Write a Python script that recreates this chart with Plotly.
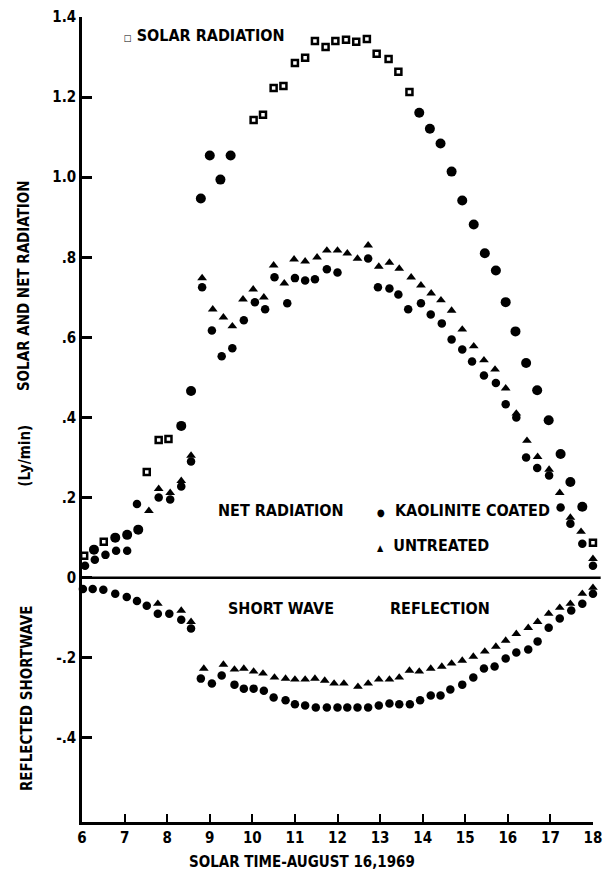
import plotly.graph_objects as go

# ---------------- data ----------------
# Solar radiation, points drawn as open squares in the figure
solar_open_time = [6.05, 6.51, 7.52, 7.80, 8.03, 10.03, 10.25, 10.50, 10.73, 11.00, 11.24,
                   11.47, 11.72, 11.95, 12.20, 12.44, 12.69, 12.92, 13.20, 13.43, 13.69, 18.00]
solar_open_value = [0.055, 0.090, 0.264, 0.344, 0.346, 1.143, 1.156, 1.223, 1.228, 1.285, 1.298,
                    1.340, 1.325, 1.340, 1.343, 1.338, 1.345, 1.308, 1.295, 1.263, 1.213, 0.087]
# Solar radiation, points that print as solid dots
solar_dark_time = [6.28, 6.78, 7.06, 7.32, 8.33, 8.56, 8.79, 9.00, 9.25, 9.49, 13.92, 14.17,
                   14.42, 14.68, 14.93, 15.20, 15.46, 15.72, 15.95, 16.18, 16.43, 16.69, 16.96,
                   17.24, 17.47, 17.75]
solar_dark_value = [0.070, 0.100, 0.107, 0.120, 0.379, 0.466, 0.947, 1.054, 0.994, 1.054, 1.161,
                    1.121, 1.084, 1.014, 0.942, 0.882, 0.810, 0.767, 0.688, 0.615, 0.536, 0.468,
                    0.393, 0.309, 0.239, 0.177]

# Net radiation - kaolinite coated (circles)
kaol_net_time = [6.07, 6.30, 6.55, 6.80, 7.06, 7.29, 7.80, 8.07, 8.33, 8.56, 8.82, 9.05, 9.28,
                 9.53, 9.80, 10.06, 10.30, 10.52, 10.82, 11.00, 11.24, 11.47, 11.75, 12.00, 12.72,
                 12.95, 13.22, 13.43, 13.66, 13.96, 14.19, 14.45, 14.68, 14.93, 15.16, 15.44,
                 15.72, 15.95, 16.20, 16.43, 16.69, 16.97, 17.24, 17.47, 17.75, 18.00]
kaol_net_value = [0.030, 0.045, 0.057, 0.067, 0.067, 0.184, 0.200, 0.195, 0.228, 0.290, 0.725,
                  0.617, 0.553, 0.573, 0.643, 0.688, 0.670, 0.750, 0.685, 0.748, 0.742, 0.745,
                  0.770, 0.762, 0.797, 0.725, 0.722, 0.707, 0.670, 0.685, 0.657, 0.635, 0.595,
                  0.570, 0.540, 0.505, 0.486, 0.433, 0.400, 0.300, 0.274, 0.255, 0.175, 0.135,
                  0.085, 0.030]

# Net radiation - untreated (triangles)
untr_net_time = [7.57, 7.80, 8.07, 8.33, 8.56, 8.82, 9.07, 9.32, 9.53, 9.78, 10.02, 10.27, 10.50,
                 10.75, 10.98, 11.24, 11.52, 11.75, 12.00, 12.23, 12.47, 12.72, 12.97, 13.22,
                 13.45, 13.73, 13.96, 14.20, 14.43, 14.68, 14.93, 15.20, 15.44, 15.70, 15.95,
                 16.20, 16.45, 16.70, 16.97, 17.22, 17.47, 17.72, 18.00]
untr_net_value = [0.167, 0.222, 0.212, 0.242, 0.305, 0.748, 0.670, 0.650, 0.628, 0.695, 0.720,
                  0.700, 0.780, 0.735, 0.795, 0.790, 0.800, 0.817, 0.817, 0.810, 0.797, 0.830,
                  0.777, 0.787, 0.772, 0.750, 0.730, 0.710, 0.693, 0.667, 0.620, 0.578, 0.543,
                  0.520, 0.473, 0.410, 0.342, 0.302, 0.270, 0.212, 0.150, 0.115, 0.047]

# Reflected shortwave - kaolinite coated (circles)
kaol_refl_time = [6.02, 6.25, 6.50, 6.78, 7.05, 7.29, 7.52, 7.78, 8.05, 8.33, 8.56, 8.79, 9.05,
                  9.28, 9.58, 9.80, 10.03, 10.27, 10.50, 10.78, 11.00, 11.24, 11.49, 11.75, 12.00,
                  12.23, 12.47, 12.72, 12.97, 13.22, 13.45, 13.70, 13.94, 14.19, 14.42, 14.65,
                  14.93, 15.19, 15.44, 15.69, 15.95, 16.20, 16.48, 16.70, 16.96, 17.22, 17.49,
                  17.75, 18.00]
kaol_refl_value = [-0.028, -0.028, -0.030, -0.040, -0.048, -0.058, -0.070, -0.090, -0.090,
                   -0.105, -0.127, -0.252, -0.264, -0.244, -0.267, -0.277, -0.277, -0.282,
                   -0.299, -0.306, -0.316, -0.319, -0.324, -0.324, -0.324, -0.324, -0.324,
                   -0.324, -0.319, -0.314, -0.316, -0.316, -0.306, -0.294, -0.294, -0.279,
                   -0.267, -0.249, -0.227, -0.222, -0.202, -0.187, -0.179, -0.159, -0.125,
                   -0.102, -0.082, -0.065, -0.040]

# Reflected shortwave - untreated (triangles)
untr_refl_time = [7.78, 8.33, 8.56, 8.86, 9.32, 9.58, 9.80, 10.03, 10.25, 10.52, 10.78, 11.00,
                  11.24, 11.47, 11.70, 11.92, 12.15, 12.48, 12.72, 12.97, 13.22, 13.45, 13.69,
                  13.92, 14.19, 14.45, 14.68, 14.93, 15.19, 15.46, 15.72, 15.95, 16.20, 16.48,
                  16.70, 16.96, 17.22, 17.47, 17.75, 18.00]
untr_refl_value = [-0.065, -0.082, -0.110, -0.227, -0.217, -0.229, -0.227, -0.234, -0.239,
                   -0.249, -0.252, -0.254, -0.254, -0.252, -0.257, -0.264, -0.264, -0.272,
                   -0.264, -0.254, -0.254, -0.249, -0.232, -0.234, -0.227, -0.222, -0.214,
                   -0.207, -0.197, -0.184, -0.172, -0.157, -0.140, -0.125, -0.110, -0.090,
                   -0.075, -0.065, -0.040, -0.025]

x_ticks = [6, 7, 8, 9, 10, 11, 12, 13, 14, 15, 16, 17, 18]
y_ticks = [1.4, 1.2, 1.0, 0.8, 0.6, 0.4, 0.2, 0.0, -0.2, -0.4]
y_tick_text = ["1.4", "1.2", "1.0", ".8", ".6", ".4", ".2", "0", "-.2", "-.4"]

# ---------------- figure ----------------
FONT = "Liberation Sans Narrow, DejaVu Sans Condensed, Liberation Sans, Arial, sans-serif"
INK = "#000000"

fig = go.Figure()

fig.add_trace(go.Scatter(x=kaol_net_time + kaol_refl_time, y=kaol_net_value + kaol_refl_value,
                         mode="markers", name="KAOLINITE COATED", cliponaxis=False,
                         marker=dict(symbol="circle", size=8.5, color=INK)))
fig.add_trace(go.Scatter(x=untr_net_time + untr_refl_time, y=untr_net_value + untr_refl_value,
                         mode="markers", name="UNTREATED", cliponaxis=False,
                         marker=dict(symbol="triangle-up", size=8.5, color=INK)))
fig.add_trace(go.Scatter(x=solar_dark_time, y=solar_dark_value, mode="markers",
                         name="SOLAR RADIATION", cliponaxis=False,
                         marker=dict(symbol="circle", size=10, color=INK)))
fig.add_trace(go.Scatter(x=solar_open_time, y=solar_open_value, mode="markers",
                         name="SOLAR RADIATION", cliponaxis=False,
                         marker=dict(symbol="square-open", size=6, color=INK,
                                     line=dict(width=2.5, color=INK))))

# zero line across the plot
fig.add_shape(type="line", xref="paper", yref="y", x0=0, x1=1.015, y0=0, y1=0,
              line=dict(color=INK, width=2.5))

def note(text, x, y, size=16, xanchor="left", xref="x", yref="y", angle=0):
    fig.add_annotation(text=text, x=x, y=y, xref=xref, yref=yref, xanchor=xanchor,
                       yanchor="middle", showarrow=False, textangle=angle,
                       font=dict(family=FONT, size=size, color=INK, weight="bold"))

note('<span style="font-size:9px">□</span> SOLAR RADIATION', 6.93, 1.353)
note("NET RADIATION", 9.14, 0.167)
note('<span style="font-size:10px">●</span>  KAOLINITE COATED', 12.88, 0.167)
note('<span style="font-size:9px">▲</span>  UNTREATED', 12.88, 0.080)
note("SHORT WAVE", 9.37, -0.077)
note("REFLECTION", 13.18, -0.077)

# axis titles (paper coordinates)
note("SOLAR AND NET RADIATION", -0.112, (822 - 284) / 807, size=15, xanchor="center",
     xref="paper", yref="paper", angle=-90)
note("(Ly/min)", -0.112, (822 - 455) / 807, size=15, xanchor="center",
     xref="paper", yref="paper", angle=-90)
note("REFLECTED SHORTWAVE", -0.108, (822 - 698) / 807, size=15, xanchor="center",
     xref="paper", yref="paper", angle=-90)
note("SOLAR TIME-AUGUST 16,1969", 0.43, -0.05, size=15, xanchor="center",
     xref="paper", yref="paper")

fig.update_xaxes(range=[5.999, 18.001], tickvals=x_ticks, ticks="inside", ticklen=8, tickwidth=2,
                 tickcolor=INK, showline=True, linewidth=2.5, linecolor=INK, showgrid=False,
                 zeroline=False, ticklabeloverflow="allow",
                 tickfont=dict(family=FONT, size=15, color=INK, weight="bold"))
fig.update_yaxes(range=[-0.61, 1.4], tickvals=y_ticks, ticktext=y_tick_text, ticks="inside",
                 ticklen=10, tickwidth=2.5, tickcolor=INK, showline=True, linewidth=2.5,
                 linecolor=INK, showgrid=False, zeroline=False,
                 tickfont=dict(family=FONT, size=15, color=INK, weight="bold"))

fig.update_layout(width=610, height=874, margin=dict(l=82, r=8, t=15, b=52),
                  paper_bgcolor="white", plot_bgcolor="white", showlegend=False)

fig.write_html("out.html")
